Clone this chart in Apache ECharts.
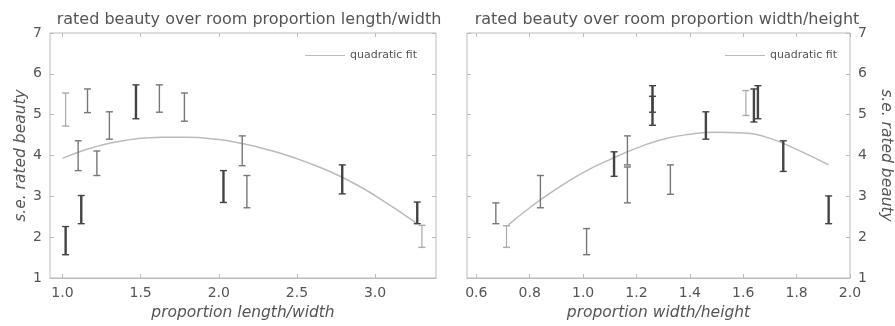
<!DOCTYPE html>
<html>
<head>
<meta charset="utf-8">
<script src="https://cdn.jsdelivr.net/npm/echarts@6/dist/echarts.min.js"></script>
<style>
  html, body { margin: 0; padding: 0; background: #fff; }
  #chart { width: 895px; height: 326px; }
</style>
</head>
<body>
<div id="chart"></div>
<script>
// left panel: proportion length/width
const leftX    = [1.02, 1.02, 1.10, 1.12, 1.16, 1.22, 1.30, 1.47, 1.62, 1.78, 2.03, 2.15, 2.18, 2.79, 3.27, 3.30];
const leftLow  = [4.72, 1.57, 3.63, 2.33, 5.05, 3.51, 4.40, 4.90, 5.06, 4.84, 2.85, 3.75, 2.72, 3.06, 2.33, 1.75];
const leftHigh = [5.53, 2.26, 4.36, 3.02, 5.63, 4.11, 5.07, 5.73, 5.73, 5.53, 3.63, 4.48, 3.51, 3.77, 2.86, 2.29];
const leftFitX = [1.0, 1.1, 1.2, 1.3, 1.4, 1.5, 1.6, 1.7, 1.8, 1.9, 2.0, 2.1, 2.2, 2.4, 2.6, 2.8, 3.0, 3.27];
const leftFitY = [3.93, 4.08, 4.2, 4.3, 4.37, 4.42, 4.44, 4.45, 4.45, 4.43, 4.39, 4.33, 4.25, 4.05, 3.78, 3.45, 3.02, 2.33];
const leftTicks = [1.0, 1.5, 2.0, 2.5, 3.0];

// right panel: proportion width/height
const rightX    = [0.673, 0.713, 0.84, 1.013, 1.116, 1.166, 1.166, 1.26, 1.26, 1.327, 1.46, 1.61, 1.64, 1.655, 1.75, 1.92];
const rightLow  = [2.33, 1.75, 2.72, 1.57, 3.49, 3.77, 2.84, 5.06, 4.74, 3.05, 4.40, 4.98, 4.82, 4.90, 3.61, 2.33];
const rightHigh = [2.84, 2.28, 3.51, 2.21, 4.09, 4.48, 3.72, 5.71, 5.45, 3.77, 5.07, 5.59, 5.63, 5.71, 4.36, 3.01];
const rightFitX = [0.72, 0.8, 0.9, 1.0, 1.1, 1.2, 1.3, 1.4, 1.5, 1.6, 1.7, 1.8, 1.92];
const rightFitY = [2.3, 2.72, 3.18, 3.58, 3.9, 4.18, 4.4, 4.52, 4.57, 4.55, 4.42, 4.15, 3.77];
const rightTicks = [0.6, 0.8, 1.0, 1.2, 1.4, 1.6, 1.8, 2.0];

const titles = ['rated beauty over room proportion length/width', 'rated beauty over room proportion width/height'];
const xNames = ['proportion length/width', 'proportion width/height'];
const yName = 's.e. rated beauty';
const fitName = 'quadratic fit';

// which bars look darker / lighter in the reference
const leftHeavy = new Set([1, 3, 7, 10, 13, 14]);
const leftLight = new Set([0, 15]);
const rightHeavy = new Set([4, 7, 8, 10, 12, 13, 14, 15]);
const rightLight = new Set([1, 11]);

const FONT = 'DejaVu Sans, Liberation Sans, sans-serif';
const TXT = '#555';

const chart = echarts.init(document.getElementById('chart'));

function bars(xs, lo, hi) {
  return xs.map((x, i) => [x, lo[i], hi[i]]);
}

function errRender(heavy, light) {
  return function (params, api) {
    const i = params.dataIndex;
    const x = api.value(0);
    const top = api.coord([x, api.value(2)]);
    const bot = api.coord([x, api.value(1)]);
    const hw = 3.5;
    let stroke = '#777', lw = 1.4;
    if (heavy.has(i)) { stroke = '#444'; lw = 2.4; }
    if (light.has(i)) { stroke = '#aaa'; lw = 1.2; }
    const cap = { stroke: stroke, lineWidth: 1.4 };
    return {
      type: 'group',
      children: [
        { type: 'line', shape: { x1: top[0], y1: top[1], x2: bot[0], y2: bot[1] }, style: { stroke: stroke, lineWidth: lw } },
        { type: 'line', shape: { x1: top[0] - hw, y1: top[1], x2: top[0] + hw, y2: top[1] }, style: cap },
        { type: 'line', shape: { x1: bot[0] - hw, y1: bot[1], x2: bot[0] + hw, y2: bot[1] }, style: cap }
      ]
    };
  };
}

const grids = [
  { left: 50, top: 33, width: 386, height: 247 },
  { left: 467, top: 33, width: 385, height: 247 }
];

function mainX(grid, min, max, ticks, name) {
  return {
    type: 'value', gridIndex: grid, min: min, max: max, position: 'bottom',
    name: name, nameLocation: 'middle', nameGap: 27,
    nameTextStyle: { fontFamily: FONT, fontSize: 15.5, fontStyle: 'italic', color: TXT },
    axisLine: { show: true, lineStyle: { color: '#bbb' } },
    axisTick: { inside: true, length: 4, customValues: ticks, lineStyle: { color: '#bbb' } },
    axisLabel: { customValues: ticks, formatter: v => v.toFixed(1), fontFamily: FONT, fontSize: 14, color: TXT, margin: 8 },
    splitLine: { show: false }
  };
}

function mirrorX(grid, min, max, ticks) {
  return {
    type: 'value', gridIndex: grid, min: min, max: max, position: 'top',
    axisLine: { show: false },
    axisTick: { inside: true, length: 4, customValues: ticks, lineStyle: { color: '#bbb' } },
    axisLabel: { show: false },
    splitLine: { show: false }
  };
}

function yAx(grid, pos, labels, rot, gap) {
  return {
    type: 'value', gridIndex: grid, min: 1, max: 7, interval: 1, position: pos,
    name: labels ? yName : '', nameLocation: 'middle', nameGap: gap, nameRotate: rot,
    nameTextStyle: { fontFamily: FONT, fontSize: 15.5, fontStyle: 'italic', color: TXT },
    axisLine: { show: false },
    axisTick: { inside: true, length: 4, lineStyle: { color: '#bbb' } },
    axisLabel: { show: labels, fontFamily: FONT, fontSize: 14, color: TXT, margin: 8 },
    splitLine: { show: false }
  };
}

const titleStyle = { fontFamily: FONT, fontSize: 16, fontWeight: 'normal', color: TXT };
const legendText = { fontFamily: FONT, fontSize: 11, color: TXT };

chart.setOption({
  animation: false,
  title: [
    { text: titles[0], left: 244, top: 7, textAlign: 'center', textStyle: titleStyle },
    { text: titles[1], left: 662, top: 7, textAlign: 'center', textStyle: titleStyle }
  ],
  legend: [
    { data: [fitName], left: 300, top: 45, icon: 'rect', itemWidth: 40, itemHeight: 1, itemGap: 6, textStyle: legendText },
    { data: [fitName], left: 720, top: 45, icon: 'rect', itemWidth: 40, itemHeight: 1, itemGap: 6, textStyle: legendText }
  ],
  grid: grids.map(g => Object.assign({ show: true, borderColor: '#bbb', borderWidth: 1, backgroundColor: 'transparent' }, g)),
  xAxis: [
    mainX(0, 0.92, 3.39, leftTicks, xNames[0]),
    mirrorX(0, 0.92, 3.39, leftTicks),
    mainX(1, 0.565, 2.0, rightTicks, xNames[1]),
    mirrorX(1, 0.565, 2.0, rightTicks)
  ],
  yAxis: [
    yAx(0, 'left', true, 90, 17),
    yAx(0, 'right', false, 90, 20),
    yAx(1, 'right', true, -90, 28),
    yAx(1, 'left', false, 90, 20)
  ],
  series: [
    {
      name: fitName, type: 'line', xAxisIndex: 0, yAxisIndex: 0, smooth: true, showSymbol: false,
      lineStyle: { color: '#bbb', width: 1.5 }, itemStyle: { color: '#bbb' },
      data: leftFitX.map((x, i) => [x, leftFitY[i]]), z: 1
    },
    {
      type: 'custom', xAxisIndex: 0, yAxisIndex: 0,
      renderItem: errRender(leftHeavy, leftLight),
      encode: { x: 0, y: [1, 2] },
      data: bars(leftX, leftLow, leftHigh), z: 2
    },
    {
      name: fitName, type: 'line', xAxisIndex: 2, yAxisIndex: 2, smooth: true, showSymbol: false,
      lineStyle: { color: '#bbb', width: 1.5 }, itemStyle: { color: '#bbb' },
      data: rightFitX.map((x, i) => [x, rightFitY[i]]), z: 1
    },
    {
      type: 'custom', xAxisIndex: 2, yAxisIndex: 2,
      renderItem: errRender(rightHeavy, rightLight),
      encode: { x: 0, y: [1, 2] },
      data: bars(rightX, rightLow, rightHigh), z: 2
    }
  ]
});
</script>
</body>
</html>
